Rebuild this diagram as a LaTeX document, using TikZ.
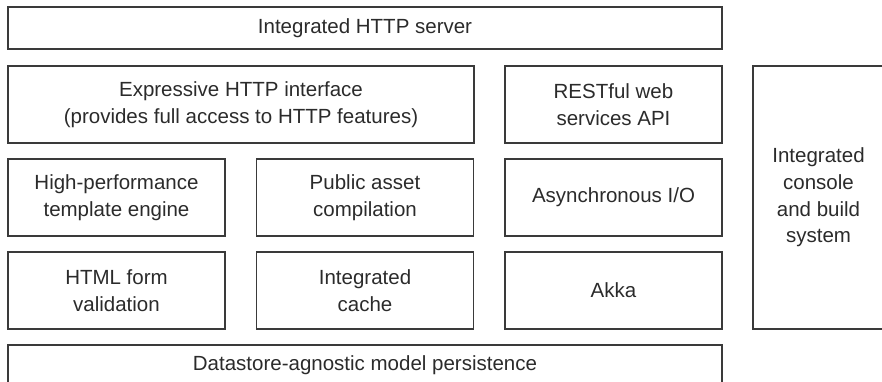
\documentclass[tikz,border=0pt]{standalone}
\usepackage{fontspec}
\setmainfont{Liberation Sans}
\definecolor{boxline}{HTML}{3A3A3A}
\definecolor{boxtext}{HTML}{2B2B2B}
\tikzset{
	blok/.style={draw=boxline, line width=1.3pt, rectangle, align=center, inner sep=0pt,
		text=boxtext, font=\fontsize{20.5}{26.7}\selectfont},
	rowbox/.style={blok, minimum height=77pt},
	colbox/.style={rowbox, minimum width=217pt}
}

\begin{document}
\begin{tikzpicture}[x=1pt, y=-1pt]
			%%%%% START %%%%%
			
			\useasboundingbox (0, 0) rectangle (882, 381);
			\clip (0, 0) rectangle (882, 381);
			
			\node[blok, minimum width=714pt, minimum height=42pt] (server) at (365, 28) {Integrated HTTP server};
			
			\node[rowbox, minimum width=466pt] (expr) at (241, 104.5) {Expressive HTTP interface\\(provides full access to HTTP features)};
			\node[colbox] (rest) at (613.5, 104.5) {RESTful web\\services API};
			
			\node[colbox] (tmpl) at (116.5, 197.5) {High-performance\\template engine};
			\node[colbox] (asset) at (365, 197.5) {Public asset\\compilation};
			\node[colbox] (async) at (613.5, 197.5) {Asynchronous I/O};
			
			\node[colbox] (html) at (116.5, 290.5) {HTML form\\validation};
			\node[colbox] (cache) at (365, 290.5) {Integrated\\cache};
			\node[colbox] (akka) at (613.5, 290.5) {Akka};
			
			\node[blok, minimum width=131pt, minimum height=263pt] (console) at (818.5, 197.5) {Integrated\\console\\and build\\system};
			
			\node[blok, minimum width=714pt, minimum height=40pt] (store) at (365, 365) {Datastore-agnostic model persistence};
			
			%%%%% END %%%%%
\end{tikzpicture}
\end{document}
